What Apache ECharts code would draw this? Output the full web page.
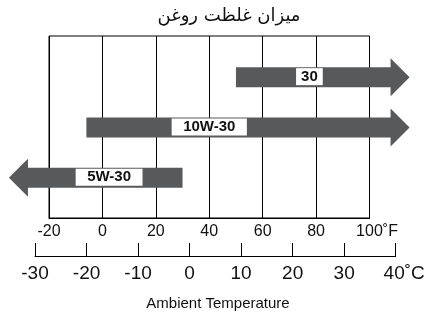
<!DOCTYPE html>
<html>
<head>
<meta charset="utf-8">
<script src="https://cdn.jsdelivr.net/npm/echarts@6/dist/echarts.min.js"></script>
<style>
html,body{margin:0;padding:0;background:#fff;}
#chart{width:429px;height:314px;}
</style>
</head>
<body>
<div id="chart"></div>
<script>
// ---- data ----
const titleText = 'میزان غلظت روغن';
const axisTitle = 'Ambient Temperature';
const grades = ['30', '10W-30', '5W-30'];
const rangeStartF = [50, -6, 30];      // tail of each arrow (°F)
const arrowTipF = [115, 115, -35];     // tip of each arrow (°F, open-ended)
const labelAtF = [77.5, 40, 2.5];      // where the grade label sits (°F)
const fahrenheitTicks = [-20, 0, 20, 40, 60, 80, 100];
const celsiusTicks = [-30, -20, -10, 0, 10, 20, 30, 40];

// ---- chart ----
const FONT = '"Liberation Sans", Arial, Helvetica, sans-serif';
const INK = '#111111';
const ARROW = '#58595b';

const chart = echarts.init(document.getElementById('chart'), null, {renderer: 'canvas'});

const arrowData = grades.map((g, i) => ({name: g, value: [i, rangeStartF[i], arrowTipF[i], labelAtF[i]]}));

function renderArrow(params, api) {
  const cat = api.value(0);
  const pTail = api.coord([api.value(1), cat]);
  const pTip = api.coord([api.value(2), cat]);
  const pLab = api.coord([api.value(3), cat]);
  const yc = pTail[1];
  const dir = pTip[0] >= pTail[0] ? 1 : -1;
  const bodyHalf = 10, headHalf = 19, headLen = 19;
  const base = pTip[0] - dir * headLen;
  const points = [
    [pTail[0], yc - bodyHalf], [base, yc - bodyHalf], [base, yc - headHalf],
    [pTip[0], yc], [base, yc + headHalf], [base, yc + bodyHalf], [pTail[0], yc + bodyHalf]
  ];
  const name = grades[params.dataIndex];
  const padX = name.length > 2 ? 11.5 : 5;
  return {
    type: 'group',
    children: [
      {type: 'polygon', shape: {points}, style: {fill: ARROW}},
      {type: 'text', x: pLab[0], y: yc - 0.5,
       style: {text: name, fill: INK, font: 'bold 15px ' + FONT, align: 'center', verticalAlign: 'middle',
               backgroundColor: '#fff', padding: [1, padX, 1, padX], lineHeight: 15}}
    ]
  };
}

const fLast = fahrenheitTicks[fahrenheitTicks.length - 1];
const cLast = celsiusTicks[celsiusTicks.length - 1];

const option = {
  backgroundColor: '#fff',
  animation: false,
  title: {
    text: titleText, left: 224, top: 2, textAlign: 'center',
    textStyle: {fontFamily: '"DejaVu Sans", sans-serif', fontSize: 18, fontWeight: 'normal', color: INK}
  },
  graphic: [{
    type: 'text', x: 218, y: 304,
    style: {text: axisTitle, font: '15px ' + FONT, fill: INK, align: 'center', verticalAlign: 'middle'}
  }],
  grid: [
    {left: 49, right: 59.5, top: 36, bottom: 96, show: true, borderColor: '#000', borderWidth: 1, containLabel: false},
    {left: 49, right: 59.5, top: 52, bottom: 111, containLabel: false},
    {left: 35, right: 33.3, top: 255, bottom: 58, containLabel: false}
  ],
  xAxis: [
    {
      gridIndex: 0, type: 'value', min: fahrenheitTicks[0], max: fLast, interval: 20,
      axisLine: {show: true, lineStyle: {color: '#000', width: 1}},
      axisTick: {show: false},
      splitLine: {show: true, lineStyle: {color: '#000', width: 1}},
      axisLabel: {
        margin: 6, color: INK,
        formatter: v => v === fLast ? '{pad|}{n|' + v + '}{u|˚F}' : '{n|' + v + '}',
        rich: {
          n: {fontSize: 16, fontFamily: FONT, color: INK},
          u: {fontSize: 16, fontFamily: FONT, color: INK},
          pad: {width: 15}
        }
      }
    },
    {
      gridIndex: 1, type: 'value', min: fahrenheitTicks[0], max: fLast, interval: 20, show: false
    },
    {
      gridIndex: 2, type: 'value', min: celsiusTicks[0], max: cLast, interval: 10,
      axisLine: {show: true, lineStyle: {color: '#000', width: 1}},
      axisTick: {show: true, inside: true, length: 13, lineStyle: {color: '#000', width: 1}},
      splitLine: {show: false},
      axisLabel: {
        margin: 8, color: INK,
        formatter: v => v === cLast ? '{pad|}{n|' + v + '}{u|˚C}' : '{n|' + v + '}',
        rich: {
          n: {fontSize: 19, fontFamily: FONT, color: INK},
          u: {fontSize: 19, fontFamily: FONT, color: INK},
          pad: {width: 17}
        }
      }
    }
  ],
  yAxis: [
    {gridIndex: 0, type: 'value', show: false, splitLine: {show: false}},
    {gridIndex: 1, type: 'category', data: grades, inverse: true, show: false},
    {gridIndex: 2, type: 'value', show: false, splitLine: {show: false}}
  ],
  series: [{
    type: 'custom',
    xAxisIndex: 1, yAxisIndex: 1,
    renderItem: renderArrow,
    encode: {x: [1, 2, 3], y: 0},
    clip: false,
    data: arrowData,
    z: 5
  }]
};

chart.setOption(option);
</script>
</body>
</html>
